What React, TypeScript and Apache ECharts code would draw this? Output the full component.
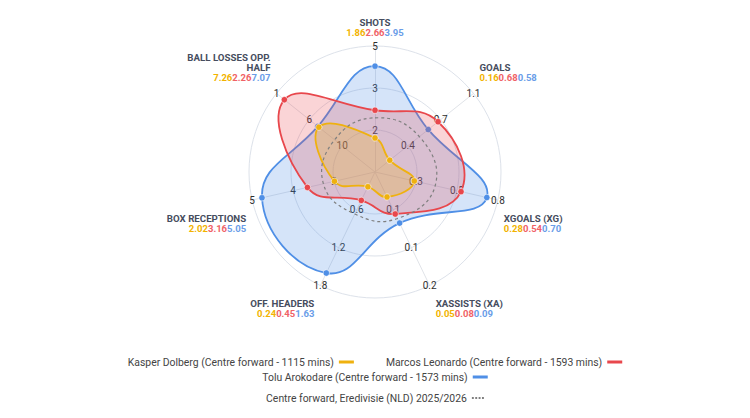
import React, { useEffect, useRef } from 'react';
import * as echarts from 'echarts';

// Categories in clockwise order, starting at the top
const categories = ['SHOTS', 'GOALS', 'XGOALS (XG)', 'XASSISTS (XA)', 'OFF. HEADERS', 'BOX RECEPTIONS', 'BALL LOSSES OPP.\nHALF'];

// Ring (tick) labels per category at 1/3, 2/3, 3/3 of the radius
const ringLabels = [
  ['2', '3', '5'],
  ['0.4', '0.7', '1.1'],
  ['0.3', '0.5', '0.8'],
  ['0.1', '0.1', '0.2'],
  ['0.6', '1.2', '1.8'],
  ['2', '4', '5'],
  ['10', '6', '1'],
];

// Raw values shown under each category name
const kasperValues = [1.86, 0.16, 0.28, 0.05, 0.24, 2.02, 7.26];
const marcosValues = [2.66, 0.68, 0.54, 0.08, 0.45, 3.16, 2.26];
const toluValues = [3.95, 0.58, 0.7, 0.09, 1.63, 5.05, 7.07];

// Percentile positions plotted on the radar (0-100)
const kasperPct = [27, 15, 32, 22, 13, 33, 57];
const marcosPct = [49, 64, 70, 37, 25, 55, 92];
const toluPct = [84, 54, 91, 45, 89, 92, 58];
const averagePct = [43, 45, 49, 41, 37, 42, 41];

const kasperName = 'Kasper Dolberg (Centre forward - 1115 mins)';
const marcosName = 'Marcos Leonardo (Centre forward - 1593 mins)';
const toluName = 'Tolu Arokodare (Centre forward - 1573 mins)';
const averageName = 'Centre forward, Eredivisie (NLD) 2025/2026';

const YELLOW = '#efb10f';
const RED = '#e8474c';
const BLUE = '#4f8fe6';
const GREY = '#7f7f7f';

const CX = 375;
const CY = 172;
const R = 126;

function makeSeries(name: string, pcts: number[], color: string, fill: string | null, symbols: boolean, dashed: boolean) {
  return {
    type: 'custom',
    name,
    coordinateSystem: 'polar',
    silent: true,
    itemStyle: { color },
    data: [pcts],
    renderItem: (params: any, api: any) => {
      const n = pcts.length;
      const pts: number[][] = [];
      for (let i = 0; i < n; i++) {
        pts.push(api.coord([api.value(i), (i * 360) / n]));
      }
      const children: any[] = [
        {
          type: 'polygon',
          shape: { points: pts, smooth: 0.45 },
          style: {
            fill: fill || 'none',
            stroke: color,
            lineWidth: dashed ? 1.2 : 1.8,
            lineDash: dashed ? [3, 3] : null,
          },
        },
      ];
      if (symbols) {
        pts.forEach((p) => {
          children.push({
            type: 'circle',
            shape: { cx: p[0], cy: p[1], r: 3.2 },
            style: { fill: color, stroke: 'rgba(255,255,255,0.55)', lineWidth: 1 },
          });
        });
      }
      return { type: 'group', children };
    },
  };
}

export default function App() {
  const ref = useRef<HTMLDivElement>(null);

  useEffect(() => {
    if (!ref.current) return;
    const chart = echarts.init(ref.current, null, { renderer: 'svg' });
    const n = categories.length;

    // radar draws counter-clockwise by default: supply indicators in reversed order
    const order = [0];
    for (let i = n - 1; i >= 1; i--) order.push(i);
    const indicator = order.map((i) => ({
      name: categories[i],
      min: 0,
      max: 100,
      axisLabel: {
        formatter: (v: number) => {
          const k = Math.round(v / (100 / 3));
          return k > 0 ? ringLabels[i][k - 1] : '';
        },
      },
    }));

    // Category names with values
    const graphics: any[] = categories.map((cat, i) => {
      const theta = ((90 - (i * 360) / n) * Math.PI) / 180;
      const dx = Math.cos(theta);
      const dy = -Math.sin(theta);
      const ex = CX + R * dx;
      const ey = CY + R * dy;
      let x = ex;
      let y = ey;
      let align = 'center';
      let vAlign = 'bottom';
      if (i === 0) {
        y = CY - R - 9;
      } else {
        align = dx > 0 ? 'left' : 'right';
        x = ex + (dx > 0 ? 6 : -6);
        vAlign = dy < 0 ? 'bottom' : 'top';
        y = dy < 0 ? ey - 11 : ey + 13;
      }
      const titleLines = cat.split('\n').map((t) => `{t|${t}}`).join('\n');
      const text = `${titleLines}\n{a|${kasperValues[i].toFixed(2)}}{b|${marcosValues[i].toFixed(2)}}{c|${toluValues[i].toFixed(2)}}`;
      return {
        type: 'text',
        x,
        y,
        silent: true,
        style: {
          text,
          align,
          verticalAlign: vAlign,
          rich: {
            t: { fontSize: 9.7, fontWeight: 'bold', fill: '#464d5e', fontFamily: 'Roboto', lineHeight: 10 },
            a: { fontSize: 9.5, fontWeight: 'bold', fill: '#f2b300', fontFamily: 'Roboto', lineHeight: 10 },
            b: { fontSize: 9.5, fontWeight: 'bold', fill: '#f06266', fontFamily: 'Roboto', lineHeight: 10 },
            c: { fontSize: 9.5, fontWeight: 'bold', fill: '#6a9de8', fontFamily: 'Roboto', lineHeight: 10 },
          },
        },
      };
    });

    const legendBase = {
      left: 'center',
      align: 'right',
      itemWidth: 15,
      itemHeight: 3,
      itemGap: 32,
      selectedMode: false,
      textStyle: { fontSize: 10.4, color: '#444', fontFamily: 'Roboto' },
    };

    chart.setOption({
      animation: false,
      backgroundColor: '#ffffff',
      radar: {
        center: [CX, CY],
        radius: R,
        startAngle: 90,
        splitNumber: 3,
        shape: 'circle',
        indicator,
        axisName: { show: false },
        splitLine: { lineStyle: { color: '#dde2ea', width: 1 } },
        splitArea: { show: false },
        axisLine: { lineStyle: { color: '#e0e3e8', width: 1 } },
        axisTick: { show: false },
        axisLabel: {
          show: true,
          margin: 0,
          align: 'center',
          verticalAlign: 'middle',
          fontSize: 10,
          color: '#2e2e2e',
          fontFamily: 'Roboto',
          showMinLabel: false,
        },
      },
      polar: { center: [CX, CY], radius: R },
      angleAxis: { type: 'value', min: 0, max: 360, startAngle: 90, clockwise: true, show: false },
      radiusAxis: { type: 'value', min: 0, max: 100, show: false },
      legend: [
        { ...legendBase, top: 352, data: [{ name: kasperName, icon: 'rect' }, { name: marcosName, icon: 'rect' }] },
        { ...legendBase, top: 367, data: [{ name: toluName, icon: 'rect' }] },
        {
          ...legendBase,
          top: 388,
          itemWidth: 12,
          itemHeight: 2,
          data: [{ name: averageName, icon: 'path://M0 0h2v2h-2zM3.5 0h2v2h-2zM7 0h2v2h-2zM10.5 0h2v2h-2z' }],
        },
      ],
      graphic: graphics,
      series: [
        makeSeries(toluName, toluPct, BLUE, 'rgba(79,143,230,0.24)', true, false),
        makeSeries(marcosName, marcosPct, RED, 'rgba(232,71,76,0.23)', true, false),
        makeSeries(kasperName, kasperPct, YELLOW, 'rgba(239,177,15,0.25)', true, false),
        makeSeries(averageName, averagePct, GREY, null, false, true),
      ],
    });

    return () => chart.dispose();
  }, []);

  return <div ref={ref} style={{ position: 'absolute', left: 0, top: 0, width: 750, height: 418 }} />;
}
